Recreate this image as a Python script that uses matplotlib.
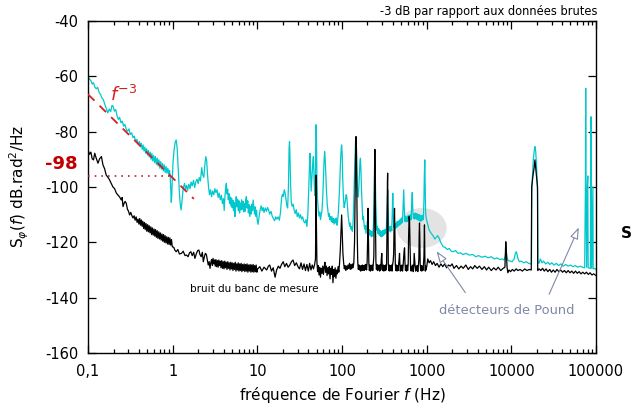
import numpy as np
import matplotlib.pyplot as plt
from matplotlib.patches import Ellipse

plt.rcParams['font.family'] = ['DejaVu Sans']
plt.rcParams['mathtext.fontset'] = 'dejavusans'
plt.rcParams['axes.unicode_minus'] = False

# --- axis ticks ---
x_ticks = [0.1, 1, 10, 100, 1000, 10000, 100000]
x_tick_labels = ['0,1', '1', '10', '100', '1000', '10000', '100000']
y_ticks = [-160, -140, -120, -100, -80, -60, -40]

# --- measured phase noise (cyan), (f [Hz], dB.rad2/Hz) ---
cyan_a = [(0.100, -60.0), (0.104, -61.0), (0.108, -61.5), (0.112, -62.8), (0.116, -62.3), (0.120, -63.8),
          (0.125, -64.5), (0.130, -64.0), (0.135, -65.8), (0.140, -66.5), (0.146, -67.8), (0.152, -68.5),
          (0.158, -70.2), (0.164, -71.5), (0.171, -73.2), (0.178, -71.8), (0.185, -72.8), (0.192, -70.5),
          (0.198, -70.8), (0.205, -72.6), (0.212, -72.0), (0.220, -74.2), (0.228, -75.6), (0.236, -74.8),
          (0.245, -76.8), (0.254, -76.2), (0.263, -78.0), (0.273, -77.4), (0.283, -79.2), (0.294, -79.8),
          (0.305, -79.0), (0.316, -81.0), (0.328, -80.4), (0.340, -82.2), (0.352, -81.6), (0.365, -83.5),
          (0.378, -82.8), (0.392, -84.6), (0.406, -83.6), (0.416, -85.5), (0.426, -84.2), (0.436, -86.4),
          (0.447, -84.8), (0.458, -87.0), (0.469, -85.6), (0.480, -87.8), (0.492, -86.2), (0.504, -88.5),
          (0.516, -86.8), (0.529, -89.2), (0.542, -87.4), (0.555, -90.0), (0.568, -87.9), (0.582, -90.6),
          (0.596, -88.6), (0.611, -91.2), (0.626, -89.0), (0.641, -91.8), (0.657, -89.6), (0.673, -92.4),
          (0.689, -90.2), (0.706, -93.2), (0.723, -90.8), (0.741, -93.6), (0.759, -91.5), (0.777, -94.2),
          (0.796, -92.0), (0.815, -94.8), (0.835, -92.6), (0.855, -95.0), (0.876, -93.2), (0.897, -95.4),
          (0.918, -94.0)]
cyan_b = [(0.935, -96.5), (0.950, -101.0), (0.962, -105.5), (0.975, -103.0), (0.990, -97.0), (1.01, -91.0),
          (1.04, -86.5), (1.07, -83.8), (1.10, -83.0), (1.13, -86.0), (1.16, -93.0), (1.20, -102.0),
          (1.23, -106.5), (1.26, -108.3), (1.29, -105.0), (1.33, -100.5), (1.38, -98.7), (1.42, -100.8),
          (1.46, -99.4), (1.50, -101.2), (1.55, -99.0), (1.60, -100.6), (1.65, -98.2), (1.70, -99.6),
          (1.76, -97.6), (1.82, -100.2), (1.88, -98.0), (1.94, -97.2), (2.00, -98.8), (2.06, -96.6),
          (2.13, -97.8), (2.20, -93.0), (2.26, -95.5), (2.33, -96.5), (2.40, -92.0), (2.46, -89.0),
          (2.52, -90.5), (2.58, -95.5), (2.65, -100.0), (2.72, -102.8), (2.80, -101.0), (2.88, -103.5),
          (2.97, -101.5), (3.06, -102.8), (3.15, -100.6), (3.24, -102.0), (3.34, -101.0), (3.44, -103.8),
          (3.54, -102.2), (3.65, -104.6), (3.76, -103.0), (3.87, -106.0), (3.98, -104.2), (4.06, -108.5),
          (4.14, -103.5), (4.22, -100.5), (4.30, -98.7), (4.38, -102.5), (4.46, -100.8), (4.54, -104.6),
          (4.62, -102.4), (4.70, -106.0), (4.78, -103.6), (4.87, -106.8), (4.96, -104.0), (5.05, -107.5),
          (5.14, -104.8), (5.23, -108.6), (5.33, -105.6), (5.43, -110.7), (5.53, -106.5), (5.63, -103.5),
          (5.73, -107.2), (5.84, -104.4), (5.95, -108.6), (6.06, -105.0), (6.17, -109.4), (6.28, -105.8),
          (6.40, -108.3), (6.52, -104.6), (6.64, -108.0), (6.76, -105.2), (6.89, -109.0), (7.02, -106.0),
          (7.15, -108.8), (7.28, -104.8), (7.42, -103.5), (7.56, -107.6), (7.70, -105.0), (7.84, -109.4),
          (7.99, -106.4), (8.14, -110.7), (8.29, -107.0), (8.44, -109.8), (8.60, -106.2), (8.76, -108.6),
          (8.92, -104.7), (9.09, -107.4), (9.26, -109.8), (9.43, -107.2), (9.61, -110.6), (9.79, -108.4),
          (9.97, -112.0)]
cyan_c = [(10.2, -113.5), (10.5, -110.5), (10.8, -108.2), (11.1, -106.8), (11.4, -108.6), (11.7, -107.4),
          (12.0, -109.2), (12.4, -107.6), (12.8, -108.8), (13.2, -107.4), (13.6, -108.4), (14.0, -109.8),
          (14.5, -108.8), (15.0, -110.6), (15.5, -111.4), (16.0, -112.2), (16.5, -110.8), (17.0, -111.6),
          (17.6, -110.8), (18.2, -112.0), (18.8, -109.0), (19.3, -104.2), (19.8, -102.6), (20.3, -103.4),
          (20.8, -101.0), (21.3, -102.2), (21.8, -104.4), (22.3, -106.8), (22.8, -107.6), (23.3, -100.0),
          (23.7, -86.0), (24.0, -83.6), (24.3, -89.0), (24.7, -99.0), (25.2, -105.8), (25.8, -107.0),
          (26.5, -106.2), (27.2, -108.4), (28.0, -109.6), (28.8, -108.2), (29.6, -110.7), (30.5, -109.4),
          (31.4, -111.2), (32.3, -110.0), (33.3, -111.6), (34.3, -110.8), (35.3, -112.4), (36.4, -113.0),
          (37.5, -111.8), (38.5, -114.3), (39.5, -110.0), (40.4, -101.0), (41.2, -92.0), (41.8, -87.8),
          (42.4, -93.0), (43.2, -101.5), (44.0, -97.0), (45.0, -92.0), (45.9, -89.0), (46.8, -96.0),
          (47.6, -103.0), (48.4, -99.0), (49.0, -85.0), (49.5, -77.5), (50.0, -84.0), (50.6, -98.0),
          (51.5, -105.0), (52.5, -108.5), (53.5, -110.5), (54.6, -109.0), (55.7, -111.8), (56.8, -110.2),
          (58.0, -108.5), (59.2, -104.0), (60.3, -97.0), (61.3, -91.0), (62.3, -87.2), (63.3, -90.0),
          (64.4, -96.0), (65.6, -101.5), (66.8, -106.0), (68.0, -108.4), (69.3, -110.6), (70.6, -109.6),
          (72.0, -111.8), (73.4, -110.6), (74.8, -112.6), (76.2, -110.8), (77.7, -112.8), (79.2, -111.4),
          (80.7, -113.4), (82.3, -111.6), (83.9, -113.0), (85.5, -111.2), (87.2, -113.8), (88.9, -112.0),
          (90.6, -109.0), (92.4, -104.0), (94.2, -98.0), (96.0, -91.0), (97.9, -86.0), (99.0, -84.8),
          (100.5, -88.0), (102.0, -97.0), (104.0, -104.0), (106.0, -107.4), (108.0, -106.2), (110.0, -104.4),
          (112.0, -102.8), (114.0, -103.6), (116.2, -107.4), (118.4, -110.6), (120.6, -112.6), (122.9, -114.2),
          (125.2, -113.0), (127.6, -115.2), (130.0, -114.4), (132.4, -116.0), (134.8, -113.6), (137.2, -107.0),
          (139.6, -98.0), (142.0, -90.0), (144.2, -84.0), (146.0, -81.8), (147.8, -85.0), (150.0, -94.0),
          (152.5, -101.0), (155.0, -103.6), (157.6, -101.0), (160.2, -96.0), (162.6, -91.5), (165.0, -89.6),
          (167.4, -94.0), (170.0, -101.0), (173.0, -107.0), (176.0, -111.8), (179.0, -110.6), (182.0, -113.4),
          (185.0, -115.2), (188.5, -114.0), (192.0, -116.8), (195.5, -114.6), (199.0, -112.4), (202.5, -114.8),
          (206.0, -116.6), (210.0, -115.4), (214.0, -117.4), (218.0, -115.8), (222.0, -118.0), (226.0, -116.2),
          (230.5, -117.8), (235.0, -114.0), (239.0, -106.0), (242.0, -96.0), (244.5, -89.6), (247.0, -95.0),
          (250.0, -104.0), (254.0, -111.0), (258.0, -115.6), (262.0, -114.2), (266.5, -116.8), (271.0, -115.0),
          (275.5, -117.4), (280.0, -115.6), (285.0, -117.8), (290.0, -116.2), (295.0, -118.0), (300.0, -115.8),
          (305.0, -117.6), (310.0, -115.6), (316.0, -117.2), (322.0, -115.4), (328.0, -116.8), (334.0, -114.8),
          (340.0, -109.0), (344.0, -104.0), (347.0, -101.0), (350.0, -107.0), (355.0, -113.8), (361.0, -115.8),
          (367.0, -114.4), (373.0, -116.2), (380.0, -114.2), (387.0, -115.8), (394.0, -107.0), (398.0, -102.3),
          (402.0, -108.0), (408.0, -114.6), (415.0, -112.8), (422.0, -115.0), (429.0, -113.2), (436.0, -114.8),
          (444.0, -112.6), (452.0, -114.4), (460.0, -112.4), (468.0, -114.0), (476.0, -112.0), (484.0, -113.6),
          (492.0, -111.6), (500.0, -113.2), (509.0, -111.2), (518.0, -112.8), (527.0, -107.0), (536.0, -101.0),
          (544.0, -108.0), (553.0, -112.4), (562.0, -110.6), (572.0, -112.6), (582.0, -110.8), (592.0, -112.4),
          (602.0, -110.4), (612.0, -112.2), (622.0, -110.2), (633.0, -112.0), (644.0, -110.0), (655.0, -111.8),
          (666.0, -106.0), (676.0, -102.0), (686.0, -108.6), (698.0, -111.4), (710.0, -109.6), (722.0, -111.6),
          (734.0, -109.4), (746.0, -111.4), (759.0, -109.6), (772.0, -111.8), (785.0, -109.8), (798.0, -112.0),
          (812.0, -110.0), (826.0, -112.2), (840.0, -110.2), (854.0, -112.4), (869.0, -110.4), (884.0, -112.0),
          (899.0, -110.2), (914.0, -111.8), (928.0, -105.0), (940.0, -95.0), (950.0, -90.2), (960.0, -100.0),
          (972.0, -109.4), (986.0, -111.2), (1000.0, -112.0)]
cyan_d = [(1030, -113.5), (1060, -115.2), (1100, -116.2), (1150, -117.0), (1200, -117.8), (1250, -118.8),
          (1300, -118.2), (1350, -117.6), (1400, -118.4), (1450, -119.7), (1500, -120.6), (1570, -121.6),
          (1650, -121.8), (1750, -122.6), (1850, -122.2), (1950, -123.2), (2050, -123.4), (2200, -123.0),
          (2350, -124.0), (2500, -123.8), (2700, -124.4), (2900, -124.0), (3200, -124.6), (3500, -124.4),
          (3800, -125.2), (4100, -124.8), (4500, -125.4), (4900, -125.0), (5300, -125.6), (5800, -125.2),
          (6300, -126.0), (6800, -125.6), (7300, -126.2), (7800, -126.0), (8200, -126.4), (8500, -125.0),
          (8700, -122.8), (8900, -125.6), (9200, -126.6), (9700, -126.8), (10200, -127.0), (10800, -126.0),
          (11200, -123.8), (11500, -123.4), (11900, -125.6), (12400, -127.0), (13200, -126.8), (14000, -127.4),
          (15000, -127.0), (16000, -127.6), (17000, -127.8), (17300, -127.6), (17450, -102.0), (17700, -97.0),
          (18200, -90.0), (18700, -86.5), (19000, -85.4), (19400, -87.0), (19900, -93.0), (20400, -102.0),
          (20600, -127.0), (21200, -127.6), (22000, -126.0), (23000, -127.4), (24000, -126.8), (25500, -127.8),
          (27000, -127.2), (28500, -128.0), (30000, -127.4), (32000, -128.2), (34000, -127.6), (36000, -128.4),
          (38500, -127.8), (41000, -128.6), (44000, -128.0), (47000, -128.6), (50000, -128.2), (53500, -128.8),
          (57000, -128.4), (61000, -129.0), (65000, -128.6), (69000, -129.0), (73500, -129.2), (75000, -100.0),
          (75600, -64.3), (76200, -100.0), (77500, -129.0), (79000, -100.0), (80000, -96.0), (80800, -129.2),
          (86000, -129.4), (86800, -100.0), (87400, -74.6), (88000, -100.0), (89000, -129.4), (92000, -100.0),
          (92600, -129.6), (96000, -129.4), (100000, -129.8)]

# --- measurement bench noise floor (black) ---
black_a = [(0.100, -86.6), (0.104, -88.2), (0.108, -87.4), (0.112, -89.8), (0.116, -90.2), (0.120, -87.8),
           (0.125, -89.6), (0.131, -91.4), (0.137, -89.8), (0.144, -89.0), (0.150, -92.0), (0.157, -93.4),
           (0.164, -95.7), (0.171, -96.4), (0.178, -97.2), (0.188, -98.7), (0.197, -100.0), (0.206, -100.6),
           (0.216, -102.2), (0.226, -102.9), (0.236, -103.6), (0.247, -104.7), (0.253, -103.8), (0.259, -107.1),
           (0.266, -106.0), (0.274, -105.2), (0.283, -105.9), (0.292, -108.0), (0.301, -108.8), (0.310, -110.1),
           (0.320, -109.2), (0.330, -110.4), (0.340, -111.2), (0.350, -110.4), (0.360, -112.0), (0.370, -110.8),
           (0.380, -112.8), (0.390, -111.6), (0.399, -113.4), (0.408, -111.4), (0.417, -113.8), (0.426, -111.9),
           (0.435, -114.2), (0.444, -112.4), (0.454, -115.0), (0.464, -112.8), (0.474, -115.4), (0.484, -113.2),
           (0.495, -116.0), (0.506, -113.6), (0.517, -116.2), (0.528, -114.0), (0.540, -116.6), (0.552, -114.4),
           (0.564, -117.2), (0.576, -114.8), (0.589, -117.4), (0.602, -115.2), (0.615, -117.8), (0.628, -115.4),
           (0.642, -118.2), (0.656, -115.8), (0.670, -118.6), (0.685, -116.2), (0.700, -118.8), (0.715, -116.6),
           (0.731, -119.2), (0.747, -117.0), (0.763, -119.6), (0.780, -117.2), (0.797, -120.0), (0.814, -117.6),
           (0.832, -120.2), (0.850, -118.0), (0.869, -120.6), (0.888, -118.2), (0.907, -120.8), (0.927, -118.4),
           (0.947, -121.0), (0.968, -119.0), (0.989, -121.6)]
black_b = [(1.03, -121.8), (1.06, -122.8), (1.10, -123.4), (1.15, -122.6), (1.20, -124.2), (1.27, -124.0),
           (1.33, -123.2), (1.40, -124.8), (1.46, -124.6), (1.52, -125.2), (1.58, -123.8), (1.64, -123.4),
           (1.70, -124.8), (1.77, -123.6), (1.83, -125.8), (1.90, -124.2), (1.97, -123.0), (2.04, -122.8),
           (2.10, -124.4), (2.17, -125.2), (2.24, -123.6), (2.30, -127.0), (2.37, -125.2), (2.43, -124.0),
           (2.50, -124.4), (2.57, -126.4), (2.63, -128.2), (2.70, -127.0), (2.76, -129.4), (2.82, -127.4),
           (2.88, -126.2), (2.94, -128.4), (3.00, -125.8), (3.06, -127.8), (3.12, -126.4), (3.18, -128.6),
           (3.24, -126.2), (3.30, -128.8), (3.37, -126.6), (3.44, -129.0), (3.51, -126.4), (3.58, -128.4),
           (3.65, -126.8), (3.72, -129.2), (3.80, -126.6), (3.88, -129.4), (3.96, -127.0), (4.04, -129.6),
           (4.12, -126.8), (4.20, -129.2), (4.29, -127.2), (4.38, -129.8), (4.47, -127.0), (4.56, -129.4),
           (4.65, -127.4), (4.75, -130.0), (4.85, -127.2), (4.95, -129.6), (5.05, -127.4), (5.15, -130.2),
           (5.26, -127.6), (5.37, -129.8), (5.48, -127.2), (5.59, -130.4), (5.70, -127.8), (5.82, -130.0),
           (5.94, -127.4), (6.06, -130.4), (6.18, -127.8), (6.31, -130.2), (6.44, -127.6), (6.57, -130.6),
           (6.70, -128.0), (6.84, -130.2), (6.98, -127.8), (7.12, -130.6), (7.27, -128.0), (7.42, -130.4),
           (7.57, -127.8), (7.73, -130.8), (7.89, -128.2), (8.05, -130.4), (8.22, -128.0), (8.39, -130.8),
           (8.56, -128.2), (8.74, -130.6), (8.92, -128.0), (9.10, -130.8), (9.29, -128.4), (9.48, -130.6),
           (9.68, -128.2), (9.88, -130.8), (10.1, -129.6), (10.7, -128.8), (11.3, -130.4), (12.0, -129.0),
           (12.9, -130.0), (13.5, -128.6), (14.0, -128.2), (14.7, -130.4), (15.4, -129.2), (16.2, -132.6),
           (16.9, -130.0), (17.7, -128.6), (18.5, -129.4), (19.3, -128.0), (20.2, -127.0), (21.1, -128.8),
           (22.1, -127.6), (23.1, -129.0), (24.2, -128.2), (25.3, -127.0), (26.4, -126.4), (27.6, -128.4),
           (28.9, -127.4), (30.2, -128.8)]
black_c = [(31.5, -129.6), (32.8, -127.4), (34.2, -129.8), (35.6, -127.8), (37.0, -130.2), (38.5, -128.0),
           (40.0, -130.4), (41.5, -127.6), (43.0, -130.0), (44.5, -128.2), (46.0, -129.6), (47.5, -128.0),
           (48.6, -126.0), (49.2, -110.0), (49.5, -95.7), (49.8, -112.0), (50.5, -127.0), (51.5, -130.6),
           (52.5, -128.4), (53.5, -131.8), (54.6, -129.0), (55.7, -132.6), (56.8, -129.4), (58.0, -131.2),
           (59.2, -128.6), (60.4, -131.6), (61.6, -129.0), (62.8, -127.2), (64.0, -130.8), (65.3, -128.6),
           (66.6, -132.0), (68.0, -129.2), (69.4, -131.4), (70.8, -128.8), (72.2, -133.2), (73.7, -129.4),
           (75.2, -131.6), (76.7, -128.6), (78.2, -134.6), (79.8, -129.8), (81.4, -132.4), (83.0, -129.2),
           (84.7, -133.0), (86.4, -130.0), (88.1, -131.4), (89.9, -128.8), (91.7, -130.8), (93.5, -127.6),
           (95.4, -123.0), (97.3, -116.0), (99.0, -110.1), (100.6, -117.0), (102.5, -124.0), (104.5, -127.4),
           (106.6, -129.6), (108.7, -128.4), (110.9, -130.2), (113.1, -128.6), (115.4, -129.8), (117.7, -128.2),
           (120.1, -129.4), (122.5, -127.6), (125.0, -129.8), (127.5, -128.0), (130.0, -129.6), (132.6, -127.8),
           (135.2, -129.2), (137.9, -127.4), (140.6, -120.0), (143.2, -100.0), (145.2, -85.0), (146.5, -81.8),
           (148.0, -86.0), (149.6, -100.0), (151.5, -118.0), (153.5, -127.2), (156.0, -129.8), (158.5, -128.2),
           (161.0, -130.0), (163.6, -128.6), (166.2, -130.4), (168.9, -128.4), (171.6, -130.2), (174.4, -128.2),
           (177.2, -130.0), (180.1, -128.4), (183.0, -130.2), (186.0, -128.2), (189.0, -129.8), (192.0, -128.0),
           (195.1, -130.0), (198.2, -127.0), (201.0, -118.0), (203.0, -107.7), (205.0, -118.0), (207.5, -127.6),
           (210.5, -130.2), (213.7, -128.2), (217.0, -130.4), (220.3, -128.4), (223.7, -130.0), (227.1, -128.2),
           (230.6, -130.2), (234.1, -128.0), (237.7, -125.0), (240.5, -110.0), (243.0, -90.0), (244.5, -86.4),
           (246.0, -92.0), (248.5, -112.0), (251.5, -127.0), (255.0, -129.8), (258.8, -128.0), (262.6, -130.2),
           (266.5, -128.4), (270.5, -130.0), (274.5, -128.2), (278.6, -130.4), (282.8, -128.2), (287.0, -130.0),
           (291.2, -126.0), (295.0, -124.0), (298.8, -128.6), (303.2, -130.2), (307.7, -128.2), (312.3, -130.4),
           (317.0, -128.4), (321.7, -130.2), (326.5, -128.2), (331.3, -130.0), (336.2, -127.8), (340.5, -115.0),
           (344.0, -98.0), (346.0, -95.0), (348.5, -108.0), (352.0, -127.4), (357.0, -130.2), (362.3, -128.2),
           (367.7, -130.4), (373.2, -128.4), (378.7, -130.0), (384.3, -128.2), (390.0, -130.4), (395.8, -128.0),
           (401.7, -127.0), (407.7, -124.0), (412.5, -114.0), (417.0, -107.7), (421.5, -116.0), (426.5, -128.0),
           (432.8, -130.2), (439.2, -128.2), (445.8, -130.4), (452.4, -128.4), (459.1, -130.2), (465.9, -128.2),
           (472.8, -126.0), (478.0, -124.0), (483.0, -128.0), (488.7, -130.4), (496.0, -128.4), (503.4, -130.2),
           (510.9, -128.2), (518.5, -130.4), (526.2, -128.6), (534.0, -126.0), (542.0, -123.0), (548.0, -122.0),
           (554.0, -127.0), (562.0, -130.2), (570.4, -128.4), (578.9, -130.4), (587.5, -128.2), (596.2, -130.2),
           (605.1, -128.0), (612.0, -118.0), (620.0, -110.7), (628.0, -112.0), (636.0, -121.0), (645.0, -128.4),
           (654.6, -130.4), (664.3, -128.6), (674.2, -130.2), (684.2, -128.2), (694.4, -130.6), (704.7, -128.4),
           (712.0, -124.0), (720.0, -126.0), (730.0, -128.4), (740.8, -130.4), (751.8, -128.6), (763.0, -130.2),
           (774.3, -128.4), (785.8, -130.6), (797.5, -128.6), (809.3, -126.0), (816.0, -117.0), (823.0, -113.0),
           (830.0, -118.0), (838.0, -127.6), (850.5, -130.2), (863.1, -128.4), (875.9, -130.4), (888.9, -128.6),
           (902.1, -130.2), (915.5, -128.2), (929.1, -125.0), (936.0, -118.0), (942.0, -113.7), (948.0, -120.0),
           (955.0, -128.4), (963.8, -130.4), (972.8, -128.6), (981.9, -130.0), (991.0, -128.8), (1000.0, -129.0)]
black_d = [(1030, -126.0), (1070, -127.4), (1110, -126.6), (1160, -128.0), (1210, -127.0), (1270, -128.4),
           (1330, -127.6), (1400, -129.0), (1470, -127.8), (1550, -128.8), (1630, -127.8), (1720, -129.2),
           (1810, -128.2), (1900, -128.6), (2000, -127.8), (2100, -129.4), (2250, -128.4), (2400, -129.6),
           (2550, -128.6), (2700, -129.4), (2900, -128.2), (3100, -129.8), (3300, -128.8), (3500, -129.6),
           (3700, -128.4), (3950, -129.4), (4200, -128.6), (4500, -129.8), (4800, -128.8), (5100, -130.0),
           (5400, -129.0), (5800, -130.2), (6200, -129.2), (6600, -130.0), (7000, -129.0), (7500, -130.2),
           (8000, -129.4), (8400, -129.0), (8600, -119.8), (8750, -124.0), (8900, -129.0), (9100, -131.0),
           (9400, -130.0), (9800, -130.6), (10300, -129.8), (10800, -130.4), (11400, -129.6), (12000, -130.2),
           (12700, -129.8), (13500, -130.4), (14400, -129.6), (15300, -130.2), (16300, -129.8), (17200, -130.0),
           (17400, -100.0), (18000, -96.0), (18600, -93.0), (19000, -90.2), (19400, -93.0), (20000, -97.0),
           (20400, -100.0), (20500, -130.2), (21300, -129.6), (22300, -130.2), (23400, -129.4), (24500, -130.4),
           (25700, -129.6), (27000, -130.6), (28400, -129.8), (29800, -130.8), (31300, -130.0), (32900, -130.8),
           (34600, -129.8), (36400, -130.6), (38300, -130.0), (40300, -130.8), (42400, -130.2), (44600, -131.0),
           (46900, -130.2), (49300, -131.0), (51800, -130.4), (54500, -131.2), (57300, -130.4), (60200, -131.2),
           (63300, -130.6), (66500, -131.4), (69900, -130.8), (73500, -131.4), (77200, -130.8), (81100, -131.6),
           (85200, -131.0), (89500, -131.8), (94000, -131.4), (100000, -132.0)]

# --- guides ---
slope_f = [0.1, 1.78]
slope_db = [-66.5, -104.3]
floor_f = [0.1, 0.95]
floor_db = [-96, -96]


def unzip(*segments):
    pts = [p for seg in segments for p in seg]
    return np.array([p[0] for p in pts]), np.array([p[1] for p in pts])


cyan_f, cyan_db = unzip(cyan_a, cyan_b, cyan_c, cyan_d)
black_f, black_db = unzip(black_a, black_b, black_c, black_d)

fig = plt.figure(figsize=(6.31, 4.07), dpi=100)
ax = fig.add_axes([0.1395, 0.1327, 0.805, 0.8157])

ax.add_patch(Ellipse((0.657, 0.3765), 0.098, 0.12, transform=ax.transAxes,
                     facecolor='#e3e3e3', edgecolor='none', zorder=0))

ax.plot(cyan_f, cyan_db, color='#00c8cc', lw=0.9, zorder=2)
ax.plot(black_f, black_db, color='black', lw=0.9, zorder=3)
ax.plot(slope_f, slope_db, color='#d42020', lw=1.3, dashes=(5, 4), zorder=4)
ax.plot(floor_f, floor_db, color='#c02020', lw=1.2, dashes=(1, 3), zorder=4)

ax.set_xscale('log')
ax.set_xlim(0.1, 1e5)
ax.set_ylim(-160, -40)
ax.set_xticks(x_ticks)
ax.set_xticklabels(x_tick_labels)
ax.xaxis.set_minor_formatter(plt.NullFormatter())
ax.set_yticks(y_ticks)
ax.set_yticklabels([str(v) for v in y_ticks])
ax.tick_params(which='both', direction='in', top=True, right=True, width=0.9, labelsize=10.5)
ax.tick_params(which='major', length=6)
ax.tick_params(which='minor', length=3)
ax.tick_params(axis='x', pad=8)
ax.tick_params(axis='y', pad=7)
for s in ax.spines.values():
    s.set_linewidth(1.0)

ax.set_xlabel(r'fréquence de Fourier $f$ (Hz)', fontsize=11, labelpad=4)
ax.set_ylabel(r'S$_{\varphi}(f)$ dB.rad$^2$/Hz', fontsize=11, labelpad=10)

ax.text(0.182, -66.8, r'$f^{-3}$', color='#d42020', fontsize=13, va='center', ha='left')
fig.text(61 / 631, 1 - 164.5 / 407, '-98', color='#c00000', fontsize=13, fontweight='bold',
         ha='center', va='center')
fig.text(598 / 631, 1 - 12 / 407, '-3 dB par rapport aux données brutes', fontsize=8.3,
         ha='right', va='center')
fig.text(621 / 631, 1 - 233 / 407, 'S', fontsize=11, fontweight='bold', ha='left', va='center')

ax.text(1.6, -137, 'bruit du banc de mesure', fontsize=7.5, ha='left', va='center')
pound_col = '#8088a8'
ax.text(1400, -144.8, 'détecteurs de Pound', fontsize=9.4, color=pound_col, ha='left', va='center')
arrow = dict(arrowstyle='-|>,head_length=0.7,head_width=0.25', ec=pound_col, fc='white', lw=0.8)
ax.annotate('', xy=(1254, -122.4), xytext=(2990, -139.0), arrowprops=arrow)
ax.annotate('', xy=(64700, -113.7), xytext=(27100, -139.7), arrowprops=arrow)

fig.savefig('out.png', dpi=100)
